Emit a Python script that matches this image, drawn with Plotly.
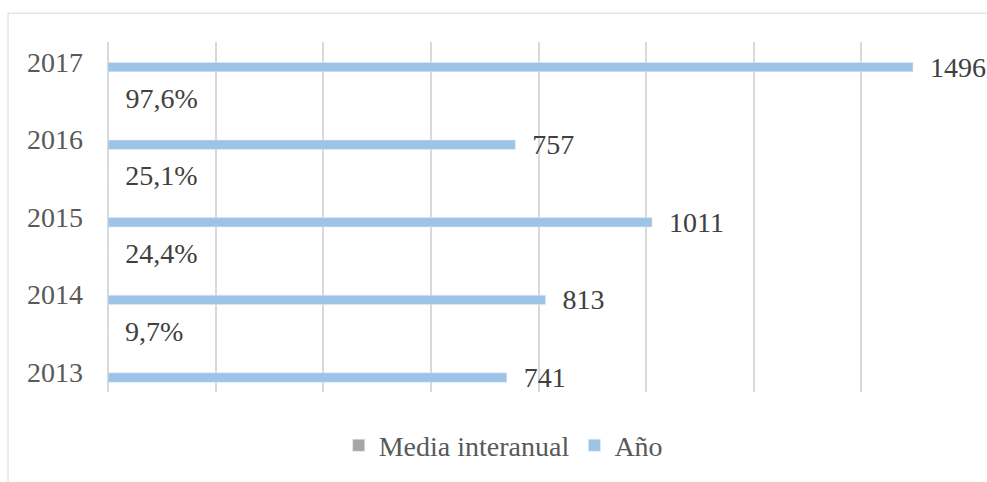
import plotly.graph_objects as go

# Data
years = ["2013", "2014", "2015", "2016", "2017"]
anio = [741, 813, 1011, 757, 1496]
media_interanual = [None, 0.097, 0.244, 0.251, 0.976]

FONT = '"Liberation Serif", "Times New Roman", serif'
FS = 28

fig = go.Figure()

# Year-over-year change: near-zero bars, only their labels are visible
fig.add_trace(go.Bar(
    name="Media interanual",
    y=years,
    x=media_interanual,
    orientation="h",
    marker=dict(color="#a5a5a5"),
    width=0.121,
    offset=-0.53,
    texttemplate="\u00a0\u00a0%{x:.1%}",
    textposition="outside",
    textfont=dict(family=FONT, size=FS, color="#404040"),
    cliponaxis=False,
    constraintext="none",
    hoverinfo="skip",
))

# Yearly totals
fig.add_trace(go.Bar(
    name="Año",
    y=years,
    x=anio,
    orientation="h",
    marker=dict(color="#9dc3e6"),
    width=0.121,
    offset=-0.129,
    texttemplate="\u00a0\u00a0%{x:d}",
    textposition="outside",
    textfont=dict(family=FONT, size=FS, color="#404040"),
    cliponaxis=False,
    constraintext="none",
))

fig.update_layout(
    width=987,
    height=482,
    barmode="overlay",
    separators=",.",
    paper_bgcolor="white",
    plot_bgcolor="white",
    margin=dict(l=108, r=18, t=42, b=87),
    font=dict(family=FONT, size=FS, color="#595959"),
    showlegend=True,
    legend=dict(
        orientation="h",
        x=0.459,
        xanchor="center",
        y=-0.153,
        yanchor="middle",
        traceorder="normal",
        font=dict(family=FONT, size=FS, color="#595959"),
        bgcolor="rgba(0,0,0,0)",
    ),
    xaxis=dict(
        range=[0, 1600],
        dtick=200,
        showticklabels=False,
        showgrid=True,
        gridcolor="#d9d9d9",
        gridwidth=1.5,
        zeroline=True,
        zerolinecolor="#d9d9d9",
        zerolinewidth=1.5,
        showline=False,
        fixedrange=True,
    ),
    yaxis=dict(
        type="category",
        categoryorder="array",
        categoryarray=years,
        range=[-0.255, 4.255],
        showgrid=False,
        showline=False,
        zeroline=False,
        ticks="",
        ticklabelstandoff=24,
        tickfont=dict(family=FONT, size=FS, color="#595959"),
        fixedrange=True,
    ),
    shapes=[
        dict(
            type="rect",
            xref="paper", yref="paper",
            x0=-0.1161, x1=1.04,
            y0=-0.32, y1=1.0822,
            line=dict(color="#d9d9d9", width=1),
            fillcolor="rgba(0,0,0,0)",
            layer="below",
        )
    ],
)

fig.write_html("out.html")
